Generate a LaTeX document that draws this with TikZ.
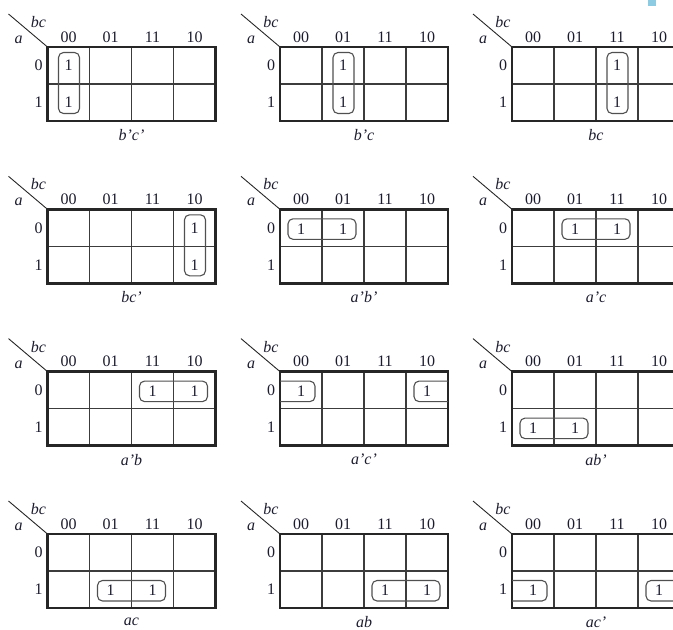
\documentclass[tikz,border=0pt]{standalone}
\usepackage{fontspec}
\setmainfont{Liberation Serif}
\usepackage{xcolor}
\definecolor{gridink}{HTML}{262626}
\definecolor{innerink}{HTML}{3C3C3C}
\definecolor{loopgray}{HTML}{505050}
\definecolor{labelink}{HTML}{1C1C30}
\definecolor{scanblue}{HTML}{8CCBE2}
\usepackage{tikz}

\begin{document}
\begin{tikzpicture}[x=1pt,y=-1pt,
    cellline/.style={line width=1.2pt, color=innerink},
    frameline/.style={line width=2.4pt, color=gridink},
    cornerline/.style={line width=0.9pt, color=gridink},
    grouploop/.style={line width=1.1pt, color=loopgray, rounded corners=5pt},
    every node/.style={font=\fontsize{16}{19}\selectfont, text=labelink, inner sep=0pt}]
  % Page frame (the right column of maps runs past the edge)
  \useasboundingbox (0,0) rectangle (673,630);
  \clip (0,0) rectangle (673,630);
  % Scan mark in the top right corner
  \fill[scanblue] (648,0) rectangle (656,6);
  % Twelve empty maps: grid, corner, headings and term
  \foreach \gx/\gy/\lab [count=\m] in {
      47.5/47/{b'c'}, 280/47/{b'c}, 512/47/{bc},
      47.5/209.3/{bc'}, 280/209.3/{a'b'}, 512/209.3/{a'c},
      47.5/371.6/{a'b}, 280/371.6/{a'c'}, 512/371.6/{ab'},
      47.5/534/{ac}, 280/534/{ab}, 512/534/{ac'}} {
    \draw[cellline] (\gx,\gy+37) -- ++(168,0);
    \foreach \k in {1,2,3}
      \draw[cellline] (\gx+42*\k,\gy) -- ++(0,74);
    \draw[frameline] (\gx,\gy) rectangle ++(168,74);
    \draw[cornerline] (\gx,\gy) -- ++(-39,-33);
    \node (bc-\m) at (\gx-9,\gy-25) {\textit{bc}};
    \node (a-\m) at (\gx-29,\gy-7) {\textit{a}};
    \foreach \h [count=\k from 0] in {00,01,11,10}
      \node (hd-\m-\k) at (\gx+21+42*\k,\gy-10) {\h};
    \node (rw-\m-0) at (\gx-9,\gy+18.5) {0};
    \node (rw-\m-1) at (\gx-9,\gy+55.5) {1};
    \node (term-\m) at (\gx+84,\gy+88) {\textit{\lab}};
  }
  % Column pairs: b'c', b'c, bc, bc'
  \foreach \gx/\gy/\c [count=\m] in {47.5/47/0, 280/47/1, 512/47/2, 47.5/209.3/3} {
    \draw[grouploop] (\gx+42*\c+11,\gy+5.5) rectangle ++(21,61);
    \node (top-\m) at (\gx+42*\c+21,\gy+18.5) {1};
    \node (bot-\m) at (\gx+42*\c+21,\gy+55.5) {1};
  }
  % Row pairs: a'b', a'c, a'b, ab', ac, ab
  \foreach \gx/\gy/\r/\c [count=\m] in {280/209.3/0/0, 512/209.3/0/1,
      47.5/371.6/0/2, 512/371.6/1/0, 47.5/534/1/1, 280/534/1/2} {
    \draw[grouploop] (\gx+42*\c+8,\gy+37*\r+9.5) rectangle ++(68,20.5);
    \node (lft-\m) at (\gx+42*\c+21,\gy+37*\r+19.5) {1};
    \node (rgt-\m) at (\gx+42*\c+63,\gy+37*\r+19.5) {1};
  }
  % Wrapped pairs: a'c', ac'
  \foreach \gx/\gy/\r [count=\m] in {280/371.6/0, 512/534/1} {
    \draw[grouploop] (\gx,\gy+37*\r+9.5) -- ++(35,0) -- ++(0,20.5) -- ++(-35,0);
    \draw[grouploop] (\gx+168,\gy+37*\r+9.5) -- ++(-34,0) -- ++(0,20.5) -- ++(34,0);
    \node (wl-\m) at (\gx+21,\gy+37*\r+19.5) {1};
    \node (wr-\m) at (\gx+147,\gy+37*\r+19.5) {1};
  }
\end{tikzpicture}
\end{document}
